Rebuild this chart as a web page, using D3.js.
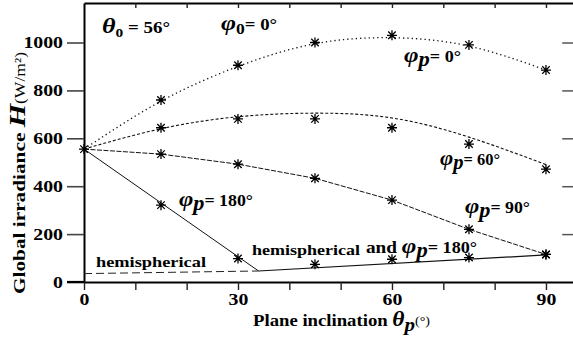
<!DOCTYPE html>
<html>
<head>
<meta charset="utf-8">
<script src="https://cdn.jsdelivr.net/npm/d3@7"></script>
<style>
  body { margin: 0; background: #fff; }
  svg { display: block; }
  text { font-family: "Liberation Serif", "Times New Roman", serif; fill: #000; }
</style>
</head>
<body>
<svg id="chart" width="573" height="341"></svg>
<script>
// Plane inclination (deg) at which the irradiance was measured
const inclinationDeg = [0, 15, 30, 45, 60, 75, 90];

// Measured global irradiance H (W/m²) for each plane azimuth
const phiP0Measured  = [555, 760, 905, 1000, 1030, 990, 885];
const phiP60Measured = [555, 644, 681, 681, 644, 576, 471];
const phiP90Measured = [555, 534, 492, 433, 342, 220, 115];

// Fitted curves through the φp = 0° and 60° measurements
const phiP0Fit  = [555, 755, 900, 995, 1020, 985, 885];
const phiP60Fit = [555, 640, 690, 705, 685, 605, 490];

// φp = 180° measurements (plane facing away from the sun)
const phiP180Deg = [15, 30];
const phiP180Measured = [321, 98];
// Hemispherical and φp = 180° measurements
const hemiDeg = [45, 60, 75, 90];
const hemiMeasured = [74, 95, 102, 115];

// Piecewise model lines
const phiP180Line = [[0, 555], [34, 46]];
const hemiAnd180Line = [[34, 46], [90, 113]];
const hemiLine = [[0, 35], [34, 46]];

// Axis ticks
const yTickValues = [0, 200, 400, 600, 800, 1000];
const xTickValues = [0, 10, 20, 30, 40, 50, 60, 70, 80, 90];
const xTickLabels = [0, 30, 60, 90];

const SERIF = '"Liberation Serif", "Times New Roman", serif';
const svg = d3.select("#chart");
const x = d3.scaleLinear().domain([0, 95.5]).range([84, 574.2]);
const y = d3.scaleLinear().domain([0, 1165]).range([282, 3]);

// stretch text horizontally so the bold serif matches the wide face used in the figure
function stretch(sel, k) {
  sel.each(function () {
    const len = this.getComputedTextLength();
    if (len > 0) {
      d3.select(this).attr("textLength", len * k).attr("lengthAdjust", "spacingAndGlyphs");
    }
  });
}

// ---- frame and axes ----
const leftAxis = svg.append("g").attr("transform", `translate(${x(0)},0)`)
  .call(d3.axisLeft(y).tickValues(yTickValues).tickFormat(d3.format("d"))
    .tickSize(17).tickSizeOuter(0).tickPadding(4));
leftAxis.attr("font-family", null);
leftAxis.select(".domain").attr("stroke", "#000").attr("stroke-width", 2);
leftAxis.selectAll(".tick line").attr("stroke", "#444").attr("stroke-width", 1.6);
leftAxis.selectAll(".tick text").style("font-family", SERIF).style("font-size", "16.5px")
  .style("font-weight", "bold").call(stretch, 1.2);

const bottomAxis = svg.append("g").attr("transform", `translate(0,${y(0)})`)
  .call(d3.axisBottom(x).tickValues(xTickValues).tickSize(8).tickSizeOuter(0).tickPadding(3)
    .tickFormat(d => xTickLabels.includes(d) ? d : ""));
bottomAxis.attr("font-family", null);
bottomAxis.select(".domain").attr("stroke", "#000").attr("stroke-width", 2.2);
bottomAxis.selectAll(".tick line").attr("stroke", "#222").attr("stroke-width", 1.4);
bottomAxis.selectAll(".tick text").style("font-family", SERIF).style("font-size", "16.5px")
  .style("font-weight", "bold").call(stretch, 1.2);
// zero tick of the y axis continues the baseline to the left
svg.append("line").attr("x1", x(0) - 17).attr("x2", x(0)).attr("y1", y(0)).attr("y2", y(0))
  .attr("stroke", "#000").attr("stroke-width", 2.2);

const topAxis = svg.append("g").attr("transform", `translate(0,${y.range()[1]})`)
  .call(d3.axisBottom(x).tickValues(xTickValues.slice(1)).tickSize(5).tickSizeOuter(0).tickFormat(""));
topAxis.select(".domain").attr("stroke", "#000").attr("stroke-width", 2);
topAxis.selectAll(".tick line").attr("stroke", "#222").attr("stroke-width", 1.4);

const rightAxis = svg.append("g").attr("transform", `translate(${x.range()[1]},0)`)
  .call(d3.axisLeft(y).tickValues(yTickValues.slice(1)).tickSize(12).tickSizeOuter(0).tickFormat(""));
rightAxis.select(".domain").attr("stroke", "#000").attr("stroke-width", 2);
rightAxis.selectAll(".tick line").attr("stroke", "#555").attr("stroke-width", 1.5);

// ---- curves ----
const smooth = d3.line().x(d => x(d[0])).y(d => y(d[1])).curve(d3.curveNatural);
const straight = d3.line().x(d => x(d[0])).y(d => y(d[1]));

const zip = (xs, ys) => xs.map((v, i) => [v, ys[i]]);

svg.append("path").datum(zip(inclinationDeg, phiP0Fit)).attr("d", smooth)
  .attr("fill", "none").attr("stroke", "#111").attr("stroke-width", 1.3).attr("stroke-dasharray", "1.3,3");
svg.append("path").datum(zip(inclinationDeg, phiP60Fit)).attr("d", smooth)
  .attr("fill", "none").attr("stroke", "#111").attr("stroke-width", 1.1).attr("stroke-dasharray", "3,2");
svg.append("path").datum(zip(inclinationDeg, phiP90Measured)).attr("d", straight)
  .attr("fill", "none").attr("stroke", "#111").attr("stroke-width", 1).attr("stroke-dasharray", "5,1.5");
svg.append("path").datum(phiP180Line).attr("d", straight)
  .attr("fill", "none").attr("stroke", "#111").attr("stroke-width", 1);
svg.append("path").datum(hemiAnd180Line).attr("d", straight)
  .attr("fill", "none").attr("stroke", "#111").attr("stroke-width", 1.2);
svg.append("path").datum(hemiLine).attr("d", straight)
  .attr("fill", "none").attr("stroke", "#222").attr("stroke-width", 1).attr("stroke-dasharray", "8,4");

// ---- asterisk markers ----
const r = 5;
const asterisk = `M0,${-r}V${r}M${-r},0H${r}M${-r * 0.75},${-r * 0.75}L${r * 0.75},${r * 0.75}M${-r * 0.75},${r * 0.75}L${r * 0.75},${-r * 0.75}`;
const points = [].concat(
  zip(inclinationDeg, phiP0Measured).slice(1),
  zip(inclinationDeg, phiP60Measured).slice(1),
  zip(inclinationDeg, phiP90Measured),
  zip(phiP180Deg, phiP180Measured),
  zip(hemiDeg, hemiMeasured)
);
svg.append("g").selectAll("path").data(points).join("path")
  .attr("transform", d => `translate(${x(d[0])},${y(d[1])})`)
  .attr("d", asterisk).attr("fill", "none").attr("stroke", "#000").attr("stroke-width", 1.3);

// ---- annotations ----
function label(px, py, parts, width) {
  const t = svg.append("text").attr("x", px).attr("y", py);
  parts.forEach(p => {
    const s = t.append("tspan").text(p.t)
      .attr("font-size", p.size || 15)
      .attr("font-weight", p.weight || "bold")
      .attr("font-style", p.italic ? "italic" : "normal");
    if (p.dy) s.attr("dy", p.dy);
  });
  if (width) t.attr("textLength", width).attr("lengthAdjust", "spacingAndGlyphs");
  return t;
}

label(102, 33, [{ t: "θ", size: 22, italic: true }, { t: "0", size: 13, dy: 4 }, { t: " = 56°", size: 16, dy: -4 }], 68);
label(221, 30, [{ t: "φ", size: 22, italic: true }, { t: "0", size: 15, dy: 4 }, { t: "= 0°", size: 16, dy: -4 }], 56);
label(404, 62, [{ t: "φ", size: 22, italic: true }, { t: "p", size: 20, italic: true, dy: 4 }, { t: "= 0°", size: 16, dy: -4 }], 57);
label(440, 165, [{ t: "φ", size: 22, italic: true }, { t: "p", size: 20, italic: true, dy: 4 }, { t: "= 60°", size: 16, dy: -4 }], 60);
label(465, 213, [{ t: "φ", size: 22, italic: true }, { t: "p", size: 20, italic: true, dy: 4 }, { t: "= 90°", size: 16, dy: -4 }], 65);
label(179, 206, [{ t: "φ", size: 22, italic: true }, { t: "p", size: 20, italic: true, dy: 4 }, { t: "= 180°", size: 16, dy: -4 }], 74);
label(96, 267, [{ t: "hemispherical", size: 15 }], 110);
label(252, 255, [{ t: "hemispherical", size: 14 }], 108);
label(366, 253, [{ t: "and ", size: 17 }, { t: "φ", size: 22, italic: true }, { t: "p", size: 20, italic: true, dy: 4 }, { t: "= 180°", size: 16, dy: -4 }], 111);

// axis titles
label(253, 326, [{ t: "Plane inclination ", size: 16 }, { t: "θ", size: 20, italic: true }, { t: "p", size: 18, italic: true, dy: 5 }, { t: "(°)", size: 12, weight: "normal", dy: -6 }], 177);

const yTitle = svg.append("text").attr("transform", "translate(25,294) rotate(-90)");
yTitle.append("tspan").text("Global irradiance ").attr("font-size", 17).attr("font-weight", "bold");
yTitle.append("tspan").text("H").attr("font-size", 24).attr("font-style", "italic").attr("font-weight", "bold");
yTitle.append("tspan").text("(W/m²)").attr("font-size", 14);
yTitle.attr("textLength", 242).attr("lengthAdjust", "spacingAndGlyphs");
</script>
</body>
</html>
